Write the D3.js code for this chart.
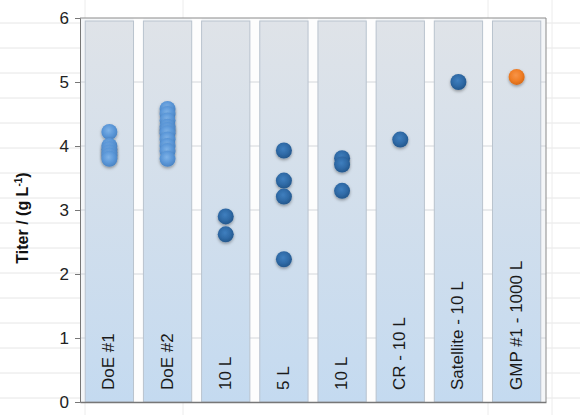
<!DOCTYPE html>
<html>
<head>
<meta charset="utf-8">
<script src="https://cdn.jsdelivr.net/npm/d3@7"></script>
<style>
  body { margin: 0; background: #fff; }
  svg { display: block; font-family: "Liberation Sans", Arial, sans-serif; }
</style>
</head>
<body>
<div id="chart"></div>
<script>
// categories along x, and the titer values
var categories = ["DoE #1", "DoE #2", "10 L", "5 L", "10 L ", "CR - 10 L", "Satellite - 10 L", "GMP #1 - 1000 L"];
var doe1 = [4.22, 4.0, 3.95, 3.9, 3.85, 3.8];
var doe2 = [4.58, 4.5, 4.4, 4.3, 4.25, 4.2, 4.1, 4.0, 3.92, 3.8];
var tenL = [2.9, 2.62];
var fiveL = [3.93, 3.46, 3.21, 2.23];
var tenL2 = [3.81, 3.71, 3.3];
var cr = [4.1];
var satellite = [5.0];
var gmp = [5.08];
var yTicks = [0, 1, 2, 3, 4, 5, 6];

var series = [doe1, doe2, tenL, fiveL, tenL2, cr, satellite, gmp];

var width = 580, height = 415;
var margin = {top: 18, right: 34, bottom: 13, left: 80};
var w = width - margin.left - margin.right,
    h = height - margin.top - margin.bottom;

var svg = d3.select("#chart").append("svg")
    .attr("width", width)
    .attr("height", height);

var defs = svg.append("defs");

var colGrad = defs.append("linearGradient")
    .attr("id", "colGrad").attr("x1", 0).attr("y1", 0).attr("x2", 0).attr("y2", 1);
colGrad.append("stop").attr("offset", "0%").attr("stop-color", "#dfe3e8");
colGrad.append("stop").attr("offset", "100%").attr("stop-color", "#c4daf0");

function dotGrad(id, light, mid, dark) {
    var g = defs.append("radialGradient").attr("id", id)
        .attr("cx", "45%").attr("cy", "40%").attr("r", "60%");
    g.append("stop").attr("offset", "0%").attr("stop-color", light);
    g.append("stop").attr("offset", "60%").attr("stop-color", mid);
    g.append("stop").attr("offset", "100%").attr("stop-color", dark);
}
dotGrad("dotDark", "#3f7fbf", "#2f6aa6", "#24578c");
dotGrad("dotLight", "#7fb3e8", "#5b97d8", "#4a84c4");
dotGrad("dotOrange", "#f79448", "#f07e26", "#d96a16");

var shadow = defs.append("filter").attr("id", "shadow")
    .attr("x", "-50%").attr("y", "-50%").attr("width", "200%").attr("height", "200%");
shadow.append("feDropShadow").attr("dx", 0).attr("dy", 1.5)
    .attr("stdDeviation", 1.5).attr("flood-color", "#000").attr("flood-opacity", 0.35);

// faint spreadsheet gridlines behind the chart
var bg = svg.append("g");
bg.selectAll("line.h").data(d3.range(23, height, 25)).enter().append("line")
    .attr("x1", 0).attr("x2", width).attr("y1", function(d) { return d; }).attr("y2", function(d) { return d; })
    .attr("stroke", "#e6e6e6");
bg.selectAll("line.v").data([85, 183, 488, 552]).enter().append("line")
    .attr("y1", 0).attr("y2", height).attr("x1", function(d) { return d; }).attr("x2", function(d) { return d; })
    .attr("stroke", "#ececec");

var x = d3.scaleBand()
    .domain(categories)
    .range([0, w])
    .paddingInner(0.17)
    .paddingOuter(0.09);

var y = d3.scaleLinear()
    .domain([0, 6])
    .range([h, 0]);

var g = svg.append("g")
    .attr("transform", "translate(" + margin.left + "," + margin.top + ")");

// plot area
g.append("rect").attr("width", w).attr("height", h).attr("fill", "#f4f6f8");

// gap stripes
g.selectAll("rect.gap").data(categories.slice(1)).enter().append("rect")
    .attr("x", function(d) { return x(d) - x.step() * x.paddingInner(); })
    .attr("width", x.step() * x.paddingInner())
    .attr("y", 0).attr("height", h)
    .attr("fill", "#fdfdfd");

g.selectAll("line.grid").data(yTicks.slice(1, -1)).enter().append("line")
    .attr("x1", 0).attr("x2", w)
    .attr("y1", function(d) { return y(d); }).attr("y2", function(d) { return y(d); })
    .attr("stroke", "#c9cdd2").attr("stroke-width", 0.8);

// columns
g.selectAll("rect.col").data(categories).enter().append("rect")
    .attr("x", function(d) { return x(d); })
    .attr("y", 3)
    .attr("width", x.bandwidth())
    .attr("height", h - 3)
    .attr("fill", "url(#colGrad)")
    .attr("stroke", "#b9c3ce")
    .attr("stroke-width", 1);

// category labels inside columns
g.selectAll("text.cat").data(categories).enter().append("text")
    .attr("transform", function(d) {
        return "translate(" + (x(d) + x.bandwidth() / 2 + 5) + "," + (h - 12) + ") rotate(-90)";
    })
    .attr("font-size", 17)
    .attr("fill", "#1a1a1a")
    .text(function(d) { return d.trim(); });

// points
series.forEach(function(vals, i) {
    var cat = categories[i];
    var fill = i < 2 ? "url(#dotLight)" : (i === 7 ? "url(#dotOrange)" : "url(#dotDark)");
    g.append("g").selectAll("circle").data(vals).enter().append("circle")
        .attr("cx", x(cat) + x.bandwidth() / 2)
        .attr("cy", function(d) { return y(d); })
        .attr("r", 8)
        .attr("fill", fill)
        .attr("filter", "url(#shadow)");
});

// border
g.append("line").attr("x1", 0).attr("x2", w).attr("y1", 0).attr("y2", 0).attr("stroke", "#8a8a8a");
g.append("line").attr("x1", w).attr("x2", w).attr("y1", 0).attr("y2", h).attr("stroke", "#8a8a8a");

var yAxis = g.append("g")
    .call(d3.axisLeft(y).tickValues(yTicks).tickSize(5).tickPadding(6).tickFormat(d3.format("d")));
yAxis.select(".domain").attr("stroke", "#777");
yAxis.selectAll(".tick line").attr("stroke", "#777");
yAxis.selectAll(".tick text").attr("font-size", 17).attr("fill", "#222")
    .attr("font-family", "Liberation Sans, Arial, sans-serif");

var xAxis = g.append("g")
    .attr("transform", "translate(0," + h + ")")
    .call(d3.axisBottom(x).tickSize(0).tickFormat(""));
xAxis.select(".domain").attr("stroke", "#777").attr("stroke-width", 1.5);

// y title
var title = svg.append("text")
    .attr("transform", "translate(28,218) rotate(-90)")
    .attr("text-anchor", "middle")
    .attr("font-size", 16)
    .attr("font-weight", "bold")
    .attr("fill", "#111");
title.append("tspan").text("Titer / (g L");
title.append("tspan").attr("font-size", 10).attr("dy", -6).text("-1");
title.append("tspan").attr("dy", 6).text(")");
</script>
</body>
</html>
